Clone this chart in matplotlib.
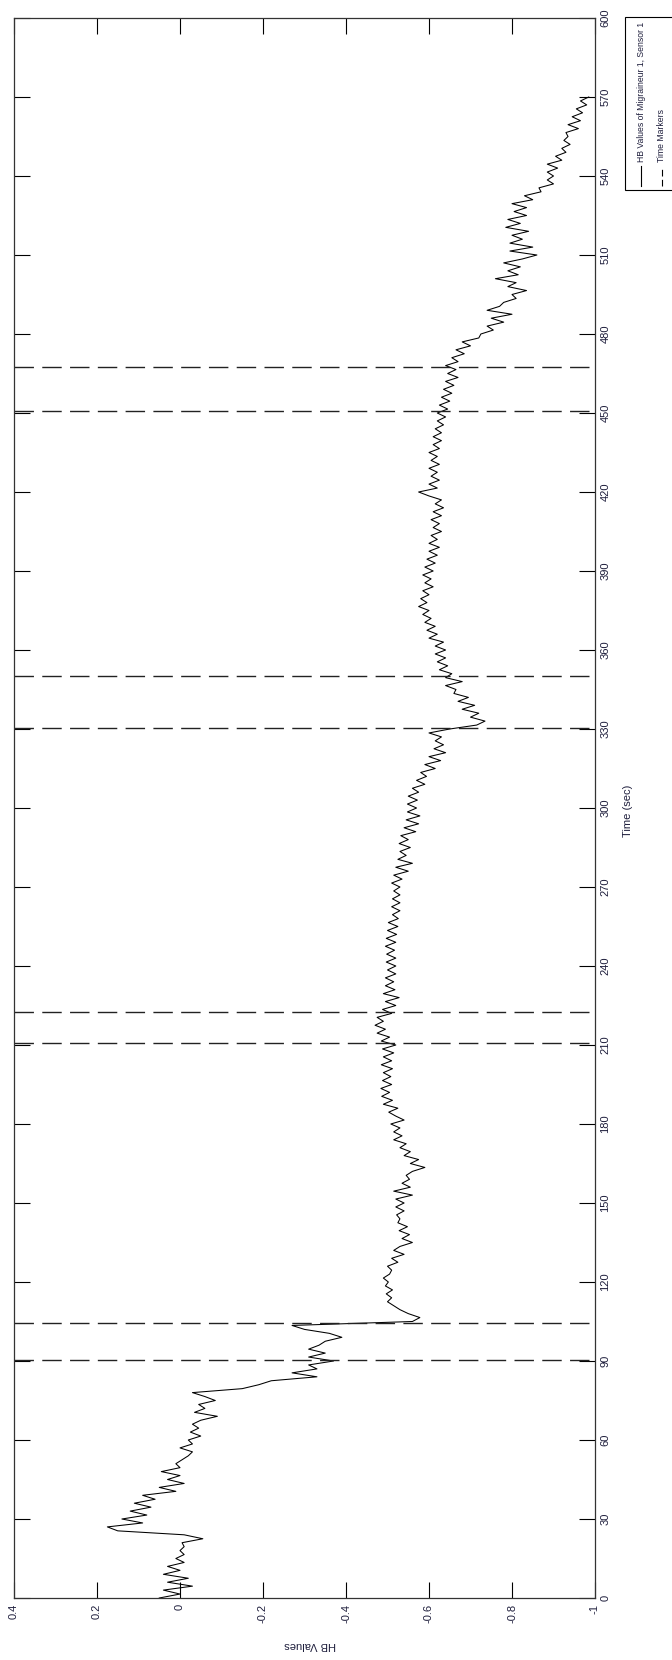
import matplotlib
matplotlib.use("Agg")
import matplotlib.pyplot as plt
from matplotlib.patches import Rectangle
from matplotlib.lines import Line2D
import numpy as np

plt.rcParams['font.family'] = ['Liberation Sans', 'DejaVu Sans']

# Valores HB (una muestra cada 1.5 s)
hb = [
    0.05, 0.0, 0.04, -0.03, 0.03, -0.02, 0.04, 0.0, 0.03, -0.01, 0.01, -0.01, 0.0, -0.01, -0.005, -0.055, -0.01, 0.15, 0.175, 0.09,
    0.14, 0.08, 0.12, 0.07, 0.11, 0.06, 0.09, 0.01, 0.05, -0.01, 0.03, 0.0, 0.045, 0.0, 0.01, -0.005, -0.02, -0.03, 0.0, -0.03,
    -0.02, -0.05, -0.025, -0.045, -0.03, -0.05, -0.09, -0.035, -0.06, -0.045, -0.085, -0.06, -0.03, -0.15, -0.19, -0.22, -0.33, -0.27, -0.33, -0.31,
    -0.37, -0.31, -0.35, -0.31, -0.335, -0.35, -0.39, -0.36, -0.3, -0.27, -0.56, -0.578, -0.55, -0.53, -0.515, -0.5, -0.51, -0.497, -0.512, -0.495,
    -0.502, -0.49, -0.505, -0.51, -0.5, -0.525, -0.51, -0.54, -0.515, -0.53, -0.56, -0.535, -0.553, -0.528, -0.548, -0.525, -0.53, -0.522, -0.54, -0.52,
    -0.54, -0.52, -0.56, -0.515, -0.555, -0.535, -0.553, -0.545, -0.56, -0.59, -0.555, -0.575, -0.54, -0.555, -0.53, -0.545, -0.515, -0.535, -0.515, -0.53,
    -0.508, -0.54, -0.52, -0.503, -0.525, -0.49, -0.512, -0.486, -0.505, -0.484, -0.51, -0.488, -0.508, -0.49, -0.512, -0.485, -0.51, -0.49, -0.515, -0.488,
    -0.52, -0.485, -0.505, -0.475, -0.495, -0.47, -0.49, -0.475, -0.51, -0.488, -0.52, -0.495, -0.528, -0.49, -0.518, -0.495, -0.515, -0.495, -0.52, -0.5,
    -0.52, -0.497, -0.52, -0.498, -0.517, -0.495, -0.52, -0.497, -0.522, -0.5, -0.525, -0.502, -0.526, -0.512, -0.53, -0.51, -0.53, -0.512, -0.53, -0.515,
    -0.53, -0.51, -0.535, -0.515, -0.55, -0.52, -0.56, -0.525, -0.545, -0.53, -0.555, -0.528, -0.55, -0.532, -0.568, -0.54, -0.575, -0.545, -0.578, -0.548,
    -0.57, -0.548, -0.572, -0.55, -0.575, -0.56, -0.59, -0.57, -0.594, -0.58, -0.615, -0.59, -0.628, -0.6, -0.64, -0.612, -0.635, -0.615, -0.63, -0.6,
    -0.65, -0.715, -0.735, -0.7, -0.72, -0.68, -0.71, -0.67, -0.695, -0.66, -0.665, -0.64, -0.68, -0.64, -0.655, -0.625, -0.645, -0.62, -0.64, -0.615,
    -0.64, -0.615, -0.635, -0.6, -0.62, -0.595, -0.615, -0.59, -0.605, -0.585, -0.6, -0.575, -0.595, -0.58, -0.6, -0.585, -0.61, -0.59, -0.605, -0.585,
    -0.61, -0.59, -0.615, -0.595, -0.62, -0.6, -0.625, -0.6, -0.62, -0.605, -0.63, -0.61, -0.625, -0.605, -0.63, -0.61, -0.635, -0.615, -0.63, -0.6,
    -0.575, -0.62, -0.6, -0.625, -0.605, -0.62, -0.6, -0.625, -0.605, -0.62, -0.6, -0.625, -0.61, -0.63, -0.61, -0.63, -0.615, -0.635, -0.62, -0.64,
    -0.62, -0.645, -0.625, -0.65, -0.63, -0.655, -0.635, -0.66, -0.64, -0.67, -0.645, -0.665, -0.64, -0.67, -0.655, -0.685, -0.665, -0.7, -0.68, -0.72,
    -0.725, -0.755, -0.74, -0.78, -0.75, -0.8, -0.74, -0.77, -0.78, -0.81, -0.8, -0.835, -0.79, -0.81, -0.76, -0.815, -0.79, -0.82, -0.78, -0.825,
    -0.86, -0.795, -0.85, -0.795, -0.825, -0.8, -0.84, -0.785, -0.82, -0.79, -0.835, -0.805, -0.835, -0.8, -0.85, -0.83, -0.87, -0.865, -0.9, -0.885,
    -0.9, -0.885, -0.91, -0.885, -0.92, -0.905, -0.93, -0.92, -0.94, -0.925, -0.935, -0.93, -0.96, -0.935, -0.965, -0.945, -0.97, -0.955, -0.98, -0.965,
    -0.985,
]
paso = 1.5  # segundos entre muestras

marcadores = [90.4, 104.3, 210.9, 222.7, 330.5, 350.2, 450.8, 467.3]
ticks_t = list(range(0, 601, 30))
ticks_hb = [0.4, 0.2, 0, -0.2, -0.4, -0.6, -0.8, -1]
etiquetas_hb = ['0.4', '0.2', '0', '-0.2', '-0.4', '-0.6', '-0.8', '-1']

W, H = 672, 1660
color_txt = '#1e1e3c'

fig = plt.figure(figsize=(W / 100, H / 100), dpi=100)
ax = fig.add_axes([14 / W, 1 - 1598 / H, (595 - 14) / W, (1598 - 18) / H])

tiempo = np.arange(len(hb)) * paso
ax.plot(hb, tiempo, color='black', lw=0.75)
for m in marcadores:
    ax.axhline(m, color='#222222', lw=1.0, dashes=(14, 6))

ax.set_xlim(0.4, -1)
ax.set_ylim(0, 600)
ax.set_xticks(ticks_hb)
ax.set_xticklabels(etiquetas_hb, rotation=90, va='top', ha='center')
ax.yaxis.tick_right()
ax.set_yticks(ticks_t)
ax.set_yticklabels([str(t) for t in ticks_t], rotation=90, va='center', ha='left')
ax.tick_params(direction='in', length=11.5, width=0.8, top=True, bottom=True,
               left=True, right=True, labelsize=8, labelcolor=color_txt, pad=4)
for s in ax.spines.values():
    s.set_linewidth(0.9)
    s.set_color('#333333')

# etiquetas de ejes (figura girada)
fig.text(310 / W, 1 - 1645 / H, 'HB Values', rotation=180, ha='center', va='center',
         fontsize=8, color=color_txt)
fig.text(628 / W, 1 - 811 / H, 'Time (sec)', rotation=90, ha='center', va='center',
         fontsize=8, color=color_txt)

# leyenda hecha a mano
fig.patches.append(Rectangle((625 / W, 1 - 190 / H), 60 / W, 173 / H, transform=fig.transFigure,
                             facecolor='white', edgecolor='black', lw=0.8))
fig.lines.append(Line2D([641 / W, 641 / W], [1 - 186 / H, 1 - 166 / H], transform=fig.transFigure,
                        color='black', lw=0.8))
fig.lines.append(Line2D([662 / W, 662 / W], [1 - 186 / H, 1 - 166 / H], transform=fig.transFigure,
                        color='black', lw=0.8, dashes=(6, 3)))
fig.text(641 / W, 1 - 162 / H, 'HB Values of Migraineur 1, Sensor 1', rotation=90,
         ha='center', va='bottom', fontsize=6.2, color=color_txt)
fig.text(662 / W, 1 - 162 / H, 'Time Markers', rotation=90,
         ha='center', va='bottom', fontsize=6.2, color=color_txt)

fig.savefig('out.png', dpi=100)
